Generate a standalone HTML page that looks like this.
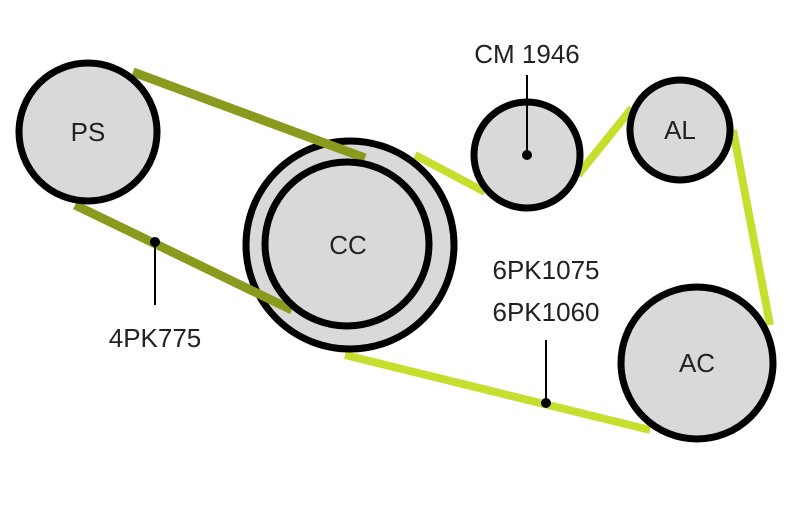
<!DOCTYPE html>
<html><head><style>body{margin:0;background:#fff}svg{display:block}</style></head><body>
<svg width="800" height="509" viewBox="0 0 800 509" xmlns="http://www.w3.org/2000/svg" font-family="Liberation Sans, sans-serif">
<g stroke="#c6de2e" stroke-width="8" fill="none">
<line x1="415" y1="155" x2="485" y2="192"/>
<line x1="578" y1="175" x2="632" y2="108"/>
<line x1="733" y1="130" x2="770" y2="325"/>
<line x1="650" y1="430" x2="345" y2="355"/>
</g>
<circle cx="350" cy="245" r="104" fill="#d9d9d9" stroke="#000" stroke-width="7"/>
<g stroke="#8a9a1e" stroke-width="9">
<line x1="133" y1="72" x2="365" y2="158"/>
<line x1="75" y1="205" x2="292" y2="310"/>
</g>
<circle cx="347" cy="244" r="82" fill="#d9d9d9" stroke="#000" stroke-width="7"/>
<circle cx="88" cy="132" r="69" fill="#d9d9d9" stroke="#000" stroke-width="7"/>
<circle cx="527" cy="155" r="53" fill="#d9d9d9" stroke="#000" stroke-width="7"/>
<circle cx="680" cy="130" r="50" fill="#d9d9d9" stroke="#000" stroke-width="7"/>
<circle cx="697" cy="363" r="76" fill="#d9d9d9" stroke="#000" stroke-width="7"/>
<g stroke="#000" stroke-width="2">
<line x1="527" y1="75" x2="527" y2="155"/>
<line x1="155" y1="242" x2="155" y2="305"/>
<line x1="546" y1="340" x2="546" y2="403"/>
</g>
<circle cx="527" cy="155" r="5" fill="#000"/>
<circle cx="155" cy="242" r="5" fill="#000"/>
<circle cx="546" cy="403" r="5" fill="#000"/>
<g font-size="26" fill="#222" text-anchor="middle">
<text x="88" y="141">PS</text>
<text x="348" y="254">CC</text>
<text x="680" y="139">AL</text>
<text x="697" y="372">AC</text>
<text x="527" y="63">CM 1946</text>
<text x="155" y="347">4PK775</text>
<text x="546" y="279">6PK1075</text>
<text x="546" y="321">6PK1060</text>
</g>
</svg>
</body></html>
